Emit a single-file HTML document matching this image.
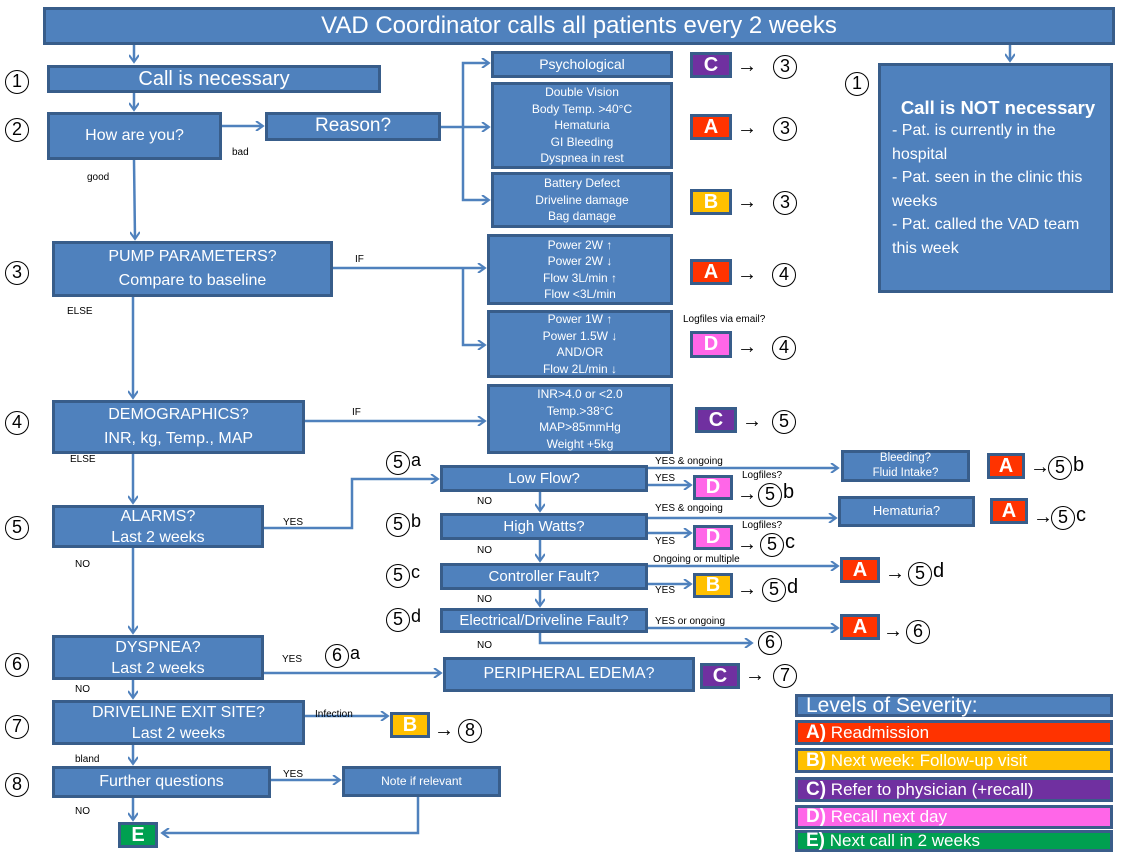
<!DOCTYPE html>
<html><head><meta charset="utf-8"><style>
body{margin:0;width:1124px;height:857px;background:#fff;position:relative;overflow:hidden;font-family:"Liberation Sans",sans-serif}
.b{position:absolute;box-sizing:border-box;background:#4f81bd;border:3px solid #385d8a;color:#fff;display:flex;flex-direction:column;justify-content:center;align-items:center;text-align:center;line-height:1.3}
.s{font-size:12px;line-height:16.5px}
.m{font-size:16px;line-height:24px}
.g{position:absolute;box-sizing:border-box;border:3px solid #385d8a;color:#fff;font-weight:bold;font-size:20px;display:flex;align-items:center;justify-content:center}
.A{background:#ff3300}.B{background:#ffc000}.C{background:#7030a0}.D{background:#ff66e8}.E{background:#00a050}
.c{position:absolute;width:24px;height:24px;box-sizing:border-box;border:1.5px solid #000;border-radius:50%;font-size:18px;line-height:21px;text-align:center;color:#000}
.t{position:absolute;font-size:10px;color:#000;white-space:nowrap}
.ar{position:absolute;font-size:20px;color:#000;line-height:20px}
.l{position:absolute;font-size:20px;color:#000}
.lg{position:absolute;left:795px;width:318px;box-sizing:border-box;border:3px solid #3b5d8a;color:#fff;font-size:17px;padding-left:8px;white-space:nowrap;display:flex;align-items:center}
</style></head><body>
<svg width="1124" height="857" style="position:absolute;left:0;top:0">
<defs><marker id="a" markerWidth="10" markerHeight="10" refX="8" refY="5" orient="auto" markerUnits="userSpaceOnUse"><path d="M1,0 L8,5 L1,10" fill="none" stroke="#4f81bd" stroke-width="2"/></marker></defs>
<g stroke="#4f81bd" stroke-width="2.5" fill="none" marker-end="url(#a)">
<line x1="134" y1="44" x2="134" y2="62"/>
<line x1="1010" y1="44" x2="1010" y2="61"/>
<line x1="134" y1="92" x2="134" y2="110"/>
<line x1="222" y1="126" x2="263" y2="126"/>
<polyline points="441,127 463,127 463,63 489,63"/>
<line x1="463" y1="127" x2="489" y2="127"/>
<polyline points="463,127 463,200 489,200"/>
<line x1="134" y1="160" x2="135" y2="239"/>
<line x1="333" y1="268" x2="485" y2="268"/>
<polyline points="463,268 463,345 485,345"/>
<line x1="133" y1="297" x2="133" y2="398"/>
<line x1="305" y1="421" x2="485" y2="421"/>
<line x1="133" y1="454" x2="133" y2="503"/>
<polyline points="264,528 352,528 352,479 438,479"/>
<line x1="540" y1="492" x2="540" y2="511"/>
<line x1="540" y1="540" x2="540" y2="561"/>
<line x1="540" y1="590" x2="540" y2="606"/>
<line x1="648" y1="468" x2="838" y2="468"/>
<line x1="648" y1="485" x2="691" y2="485"/>
<line x1="648" y1="518" x2="836" y2="518"/>
<line x1="648" y1="533" x2="691" y2="533"/>
<line x1="648" y1="566" x2="838" y2="566"/>
<line x1="648" y1="584" x2="691" y2="584"/>
<line x1="648" y1="628" x2="838" y2="628"/>
<polyline points="540,633 540,643 752,643"/>
<line x1="133" y1="548" x2="133" y2="633"/>
<line x1="264" y1="673" x2="441" y2="673"/>
<line x1="133" y1="680" x2="133" y2="698"/>
<line x1="305" y1="716" x2="388" y2="716"/>
<line x1="133" y1="745" x2="133" y2="764"/>
<line x1="271" y1="780" x2="340" y2="780"/>
<line x1="133" y1="798" x2="133" y2="820"/>
<polyline points="418,797 418,833 162,833"/>
</g></svg>

<div class="b" style="left:43px;top:7px;width:1072px;height:38px;font-size:24px">VAD Coordinator calls all patients every 2 weeks</div>
<div class="b" style="left:47px;top:65px;width:334px;height:28px;font-size:20px">Call is necessary</div>
<div class="b" style="left:878px;top:63px;width:235px;height:230px;align-items:flex-start;text-align:left;padding:0 6px 0 11px;font-size:16px;line-height:23.5px"><div style="font-weight:bold;font-size:18.5px;align-self:center;margin-bottom:0;white-space:nowrap">Call is NOT necessary</div>- Pat. is currently in the hospital<br>- Pat. seen in the clinic this weeks<br>- Pat. called the VAD team this week</div>
<div class="b" style="left:47px;top:112px;width:175px;height:48px;font-size:16px">How are you?</div>
<div class="b" style="left:265px;top:112px;width:176px;height:29px;font-size:19px">Reason?</div>
<div class="b s" style="left:491px;top:51px;width:182px;height:27px;font-size:14px">Psychological</div>
<div class="b s" style="left:491px;top:82px;width:182px;height:87px">Double Vision<br>Body Temp. &gt;40°C<br>Hematuria<br>GI Bleeding<br>Dyspnea in rest</div>
<div class="b s" style="left:491px;top:172px;width:182px;height:56px">Battery Defect<br>Driveline damage<br>Bag damage</div>
<div class="b m" style="left:52px;top:241px;width:281px;height:56px">PUMP PARAMETERS?<br>Compare to baseline</div>
<div class="b s" style="left:487px;top:234px;width:186px;height:71px">Power 2W ↑<br>Power 2W ↓<br>Flow 3L/min ↑<br>Flow &lt;3L/min</div>
<div class="b s" style="left:487px;top:310px;width:186px;height:68px">Power 1W ↑<br>Power 1.5W ↓<br>AND/OR<br>Flow 2L/min ↓</div>
<div class="b m" style="left:52px;top:400px;width:253px;height:54px">DEMOGRAPHICS?<br>INR, kg, Temp., MAP</div>
<div class="b s" style="left:487px;top:384px;width:186px;height:70px">INR&gt;4.0 or &lt;2.0<br>Temp.&gt;38°C<br>MAP&gt;85mmHg<br>Weight +5kg</div>
<div class="b m" style="left:52px;top:505px;width:212px;height:43px;line-height:21px">ALARMS?<br>Last 2 weeks</div>
<div class="b" style="left:440px;top:465px;width:208px;height:27px;font-size:15px">Low Flow?</div>
<div class="b" style="left:440px;top:513px;width:208px;height:27px;font-size:15px">High Watts?</div>
<div class="b" style="left:440px;top:563px;width:208px;height:27px;font-size:15px">Controller Fault?</div>
<div class="b" style="left:440px;top:608px;width:208px;height:25px;font-size:15px">Electrical/Driveline Fault?</div>
<div class="b s" style="left:841px;top:450px;width:129px;height:32px;font-size:11.5px;line-height:15px">Bleeding?<br>Fluid Intake?</div>
<div class="b" style="left:838px;top:496px;width:137px;height:31px;font-size:13px">Hematuria?</div>
<div class="b m" style="left:52px;top:635px;width:212px;height:45px;line-height:21px">DYSPNEA?<br>Last 2 weeks</div>
<div class="b" style="left:443px;top:657px;width:252px;height:35px;font-size:16px">PERIPHERAL EDEMA?</div>
<div class="b m" style="left:52px;top:700px;width:253px;height:45px;line-height:21px">DRIVELINE EXIT SITE?<br>Last 2 weeks</div>
<div class="b" style="left:52px;top:766px;width:219px;height:32px;font-size:16px">Further questions</div>
<div class="b" style="left:342px;top:766px;width:159px;height:31px;font-size:12px">Note if relevant</div>

<div class="g C" style="left:690px;top:52px;width:42px;height:26px">C</div>
<div class="g A" style="left:690px;top:114px;width:42px;height:26px">A</div>
<div class="g B" style="left:690px;top:189px;width:42px;height:26px">B</div>
<div class="g A" style="left:690px;top:259px;width:42px;height:26px">A</div>
<div class="g D" style="left:690px;top:331px;width:42px;height:27px">D</div>
<div class="g C" style="left:695px;top:407px;width:42px;height:26px">C</div>
<div class="g A" style="left:987px;top:453px;width:38px;height:26px">A</div>
<div class="g D" style="left:693px;top:475px;width:40px;height:25px">D</div>
<div class="g A" style="left:990px;top:498px;width:38px;height:26px">A</div>
<div class="g D" style="left:693px;top:525px;width:40px;height:25px">D</div>
<div class="g A" style="left:840px;top:557px;width:40px;height:26px">A</div>
<div class="g B" style="left:693px;top:573px;width:40px;height:25px">B</div>
<div class="g A" style="left:840px;top:614px;width:40px;height:26px">A</div>
<div class="g C" style="left:700px;top:663px;width:40px;height:26px">C</div>
<div class="g B" style="left:390px;top:712px;width:40px;height:26px">B</div>
<div class="g E" style="left:118px;top:822px;width:40px;height:26px">E</div>

<div class="ar" style="left:737px;top:56px">→</div><div class="c" style="left:773px;top:55px">3</div>
<div class="ar" style="left:737px;top:118px">→</div><div class="c" style="left:773px;top:117px">3</div>
<div class="ar" style="left:737px;top:192px">→</div><div class="c" style="left:773px;top:191px">3</div>
<div class="ar" style="left:737px;top:264px">→</div><div class="c" style="left:772px;top:263px">4</div>
<div class="ar" style="left:737px;top:337px">→</div><div class="c" style="left:772px;top:336px">4</div>
<div class="ar" style="left:742px;top:411px">→</div><div class="c" style="left:772px;top:410px">5</div>
<div class="ar" style="left:1030px;top:457px">→</div><div class="c" style="left:1048px;top:456px">5</div><div class="l" style="left:1073px;top:454px">b</div>
<div class="ar" style="left:737px;top:484px">→</div><div class="c" style="left:758px;top:483px">5</div><div class="l" style="left:783px;top:481px">b</div>
<div class="ar" style="left:1033px;top:507px">→</div><div class="c" style="left:1051px;top:506px">5</div><div class="l" style="left:1076px;top:504px">c</div>
<div class="ar" style="left:737px;top:534px">→</div><div class="c" style="left:760px;top:533px">5</div><div class="l" style="left:785px;top:531px">c</div>
<div class="ar" style="left:885px;top:563px">→</div><div class="c" style="left:908px;top:562px">5</div><div class="l" style="left:933px;top:560px">d</div>
<div class="ar" style="left:737px;top:579px">→</div><div class="c" style="left:762px;top:578px">5</div><div class="l" style="left:787px;top:576px">d</div>
<div class="ar" style="left:883px;top:621px">→</div><div class="c" style="left:906px;top:620px">6</div>
<div class="c" style="left:758px;top:631px">6</div>
<div class="ar" style="left:745px;top:665px">→</div><div class="c" style="left:773px;top:664px">7</div>
<div class="ar" style="left:434px;top:720px">→</div><div class="c" style="left:458px;top:719px">8</div>

<div class="c" style="left:5px;top:70px">1</div>
<div class="c" style="left:845px;top:72px">1</div>
<div class="c" style="left:5px;top:118px">2</div>
<div class="c" style="left:5px;top:261px">3</div>
<div class="c" style="left:5px;top:411px">4</div>
<div class="c" style="left:5px;top:516px">5</div>
<div class="c" style="left:5px;top:653px">6</div>
<div class="c" style="left:5px;top:715px">7</div>
<div class="c" style="left:5px;top:773px">8</div>
<div class="c" style="left:386px;top:451px">5</div><div class="l" style="left:411px;top:450px;font-size:18px">a</div>
<div class="c" style="left:386px;top:513px">5</div><div class="l" style="left:411px;top:511px;font-size:18px">b</div>
<div class="c" style="left:386px;top:564px">5</div><div class="l" style="left:411px;top:562px;font-size:18px">c</div>
<div class="c" style="left:386px;top:608px">5</div><div class="l" style="left:411px;top:606px;font-size:18px">d</div>
<div class="c" style="left:325px;top:644px">6</div><div class="l" style="left:350px;top:643px;font-size:18px">a</div>

<div class="t" style="left:232px;top:147px">bad</div>
<div class="t" style="left:87px;top:172px">good</div>
<div class="t" style="left:355px;top:254px">IF</div>
<div class="t" style="left:67px;top:306px">ELSE</div>
<div class="t" style="left:683px;top:314px">Logfiles via email?</div>
<div class="t" style="left:352px;top:407px">IF</div>
<div class="t" style="left:70px;top:454px">ELSE</div>
<div class="t" style="left:283px;top:517px">YES</div>
<div class="t" style="left:75px;top:559px">NO</div>
<div class="t" style="left:477px;top:496px">NO</div>
<div class="t" style="left:477px;top:545px">NO</div>
<div class="t" style="left:477px;top:594px">NO</div>
<div class="t" style="left:477px;top:640px">NO</div>
<div class="t" style="left:655px;top:456px">YES &amp; ongoing</div>
<div class="t" style="left:655px;top:473px">YES</div>
<div class="t" style="left:742px;top:470px">Logfiles?</div>
<div class="t" style="left:655px;top:503px">YES &amp; ongoing</div>
<div class="t" style="left:742px;top:520px">Logfiles?</div>
<div class="t" style="left:655px;top:536px">YES</div>
<div class="t" style="left:653px;top:554px">Ongoing or multiple</div>
<div class="t" style="left:655px;top:585px">YES</div>
<div class="t" style="left:655px;top:616px">YES or ongoing</div>
<div class="t" style="left:282px;top:654px">YES</div>
<div class="t" style="left:75px;top:684px">NO</div>
<div class="t" style="left:315px;top:709px">Infection</div>
<div class="t" style="left:75px;top:754px">bland</div>
<div class="t" style="left:283px;top:769px">YES</div>
<div class="t" style="left:75px;top:806px">NO</div>

<div class="lg" style="top:694px;height:23px;background:#4f81bd;font-size:21px">Levels of Severity:</div>
<div class="lg A" style="top:720px;height:25px"><b style="font-size:19px">A)</b>&nbsp;Readmission</div>
<div class="lg B" style="top:748px;height:25px"><b style="font-size:19px">B)</b>&nbsp;Next week: Follow-up visit</div>
<div class="lg C" style="top:777px;height:25px"><b style="font-size:19px">C)</b>&nbsp;Refer to physician (+recall)</div>
<div class="lg D" style="top:805px;height:24px"><b style="font-size:19px">D)</b>&nbsp;Recall next day</div>
<div class="lg E" style="top:830px;height:22px"><b style="font-size:19px">E)</b>&nbsp;Next call in 2 weeks</div>
</body></html>
